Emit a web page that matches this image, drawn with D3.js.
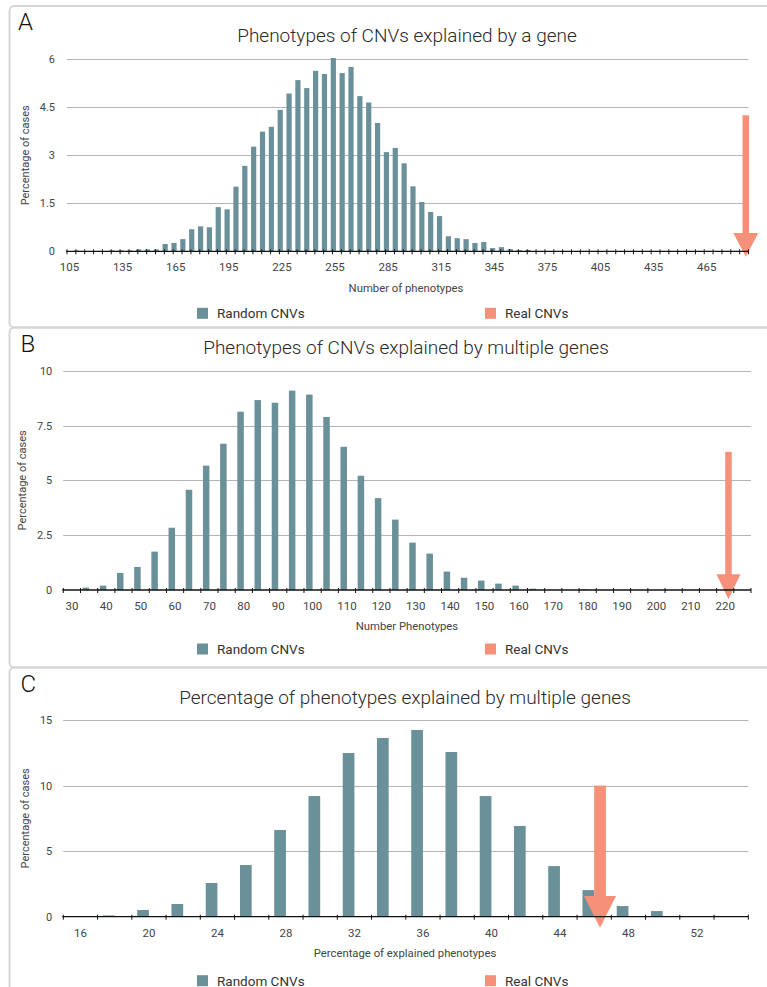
<!DOCTYPE html>
<html>
<head>
<meta charset="utf-8">
<script src="https://cdn.jsdelivr.net/npm/d3@7"></script>
<style>
  html, body { margin: 0; padding: 0; background: #ffffff; }
  svg { display: block; }
  text { font-family: "Helvetica Neue", Roboto, "Liberation Sans", Arial, sans-serif; }
</style>
</head>
<body>
<svg id="chart" width="767" height="987"></svg>
<script>
// ---- Panel A: number of phenotypes explained by a single gene ----
const catsA = [105,110,115,120,125,130,135,140,145,150,155,160,165,170,175,180,185,190,195,200,
  205,210,215,220,225,230,235,240,245,250,255,260,265,270,275,280,285,290,295,300,
  305,310,315,320,325,330,335,340,345,350,355,360,365,370,375,380,385,390,395,400,
  405,410,415,420,425,430,435,440,445,450,455,460,465,470,475,480,485,490];
const randomA = [0,0.03,0,0,0,0.03,0.03,0.03,0.06,0.06,0.06,0.23,0.26,0.38,0.69,0.78,0.75,1.38,1.31,2.02,
  2.67,3.27,3.74,3.89,4.42,4.93,5.35,5.10,5.64,5.54,6.04,5.57,5.76,4.85,4.65,4.01,3.10,3.23,2.75,2.03,
  1.54,1.23,1.10,0.47,0.41,0.38,0.26,0.29,0.10,0.13,0.07,0.04,0.04,0,0,0,0,0,0,0,
  0,0,0,0,0,0,0,0,0,0,0,0,0,0,0,0,0,0];
const realA = [{cat: 490, value: 4.25}];
const xLabelsA = [105,135,165,195,225,255,285,315,345,375,405,435,465];
const yTicksA = [0,1.5,3,4.5,6];

// ---- Panel B: number of phenotypes explained by multiple genes ----
const catsB = [30,35,40,45,50,55,60,65,70,75,80,85,90,95,100,105,110,115,120,125,
  130,135,140,145,150,155,160,165,170,175,180,185,190,195,200,205,210,215,220,225];
const randomB = [0,0.11,0.2,0.78,1.05,1.75,2.84,4.57,5.67,6.67,8.13,8.66,8.54,9.09,8.91,7.89,6.53,5.21,4.19,3.21,
  2.16,1.66,0.84,0.56,0.43,0.29,0.2,0.06,0,0,0.04,0,0,0,0,0,0,0,0,0];
const realB = [{cat: 220, value: 6.3}];
const xLabelsB = [30,40,50,60,70,80,90,100,110,120,130,140,150,160,170,180,190,200,210,220];
const yTicksB = [0,2.5,5,7.5,10];

// ---- Panel C: percentage of phenotypes explained by multiple genes ----
const catsC = [16,18,20,22,24,26,28,30,32,34,36,38,40,42,44,46,48,50,52,54];
const randomC = [0,0.1,0.51,0.97,2.57,3.94,6.61,9.2,12.48,13.63,14.24,12.56,9.2,6.92,3.86,2.03,0.81,0.43,0.05,0.05];
const realC = [{cat: 46, value: 10}];
const xLabelsC = [16,20,24,28,32,36,40,44,48,52];
const yTicksC = [0,5,10,15];

const legendNames = ["Random CNVs", "Real CNVs"];
const COLOR_RANDOM = "#6a9199";
const COLOR_REAL = "#f59079";

const svg = d3.select("#chart");

function drawPanel(p) {
  const g = svg.append("g");

  // panel frame
  g.append("rect")
    .attr("x", 9.5).attr("y", p.frameTop)
    .attr("width", 820).attr("height", p.frameHeight)
    .attr("rx", 5)
    .attr("fill", "none").attr("stroke", "#d5d5d5").attr("stroke-width", 2);

  // panel letter and title
  g.append("text").attr("x", p.letterX).attr("y", p.letterY)
    .attr("font-size", 24).attr("font-weight", 300).attr("fill", "#111").text(p.letter);
  g.append("text").attr("x", p.titleX).attr("y", p.titleY)
    .attr("text-anchor", "middle").attr("font-size", p.titleSize).attr("font-weight", 300)
    .attr("fill", "#2a2a2a").text(p.title);

  // scales
  const y = d3.scaleLinear().domain([0, p.yMax]).range([p.y0, p.y1]);
  let xCenter, xStart, step;
  if (p.mode === "point") {
    const x = d3.scalePoint().domain(p.cats).range([p.x0, p.x1]);
    step = x.step();
    xCenter = c => x(c);
    xStart = c => x(c) - step / 2;
  } else {
    const x = d3.scaleBand().domain(p.cats).range([p.x0, p.x1]).paddingInner(0).paddingOuter(0);
    step = x.bandwidth();
    xStart = c => x(c);
    xCenter = c => x(c) + step / 2;
  }

  // horizontal gridlines
  g.append("g").selectAll("line").data(p.yTicks.filter(v => v > 0)).join("line")
    .attr("x1", p.x0).attr("x2", p.gridEnd)
    .attr("y1", d => Math.round(y(d)) + 0.5).attr("y2", d => Math.round(y(d)) + 0.5)
    .attr("stroke", "#b4b4b4").attr("stroke-width", 1.2);

  // y tick labels
  g.append("g").selectAll("text").data(p.yTicks).join("text")
    .attr("x", p.x0 - p.yLabelGap).attr("y", d => y(d) + 4)
    .attr("text-anchor", "end").attr("font-size", 11).attr("fill", "#444")
    .text(d => d);

  // y axis title
  g.append("text")
    .attr("transform", `translate(${p.yTitleX},${(p.y0 + p.y1) / 2}) rotate(-90)`)
    .attr("text-anchor", "middle").attr("font-size", 11).attr("fill", "#444")
    .text("Percentage of cases");

  // random CNV bars
  const wR = p.barW;
  const randomX = c => p.mode === "point" ? xCenter(c) - wR / 2 + p.randomShift
                                          : xStart(c) + (step - 2 * wR) / 2;
  g.append("g").selectAll("rect").data(p.cats.map((c, i) => ({cat: c, value: p.random[i]})))
    .join("rect")
    .attr("x", d => randomX(d.cat))
    .attr("y", d => y(d.value))
    .attr("width", wR)
    .attr("height", d => p.y0 - y(d.value))
    .attr("fill", COLOR_RANDOM);

  // real CNV bar with arrowhead
  const wReal = p.realW;
  const realX = c => p.mode === "point" ? xCenter(c) - wReal / 2 + p.realShift
                                        : xStart(c) + (step - 2 * wR) / 2 + wR;
  const rg = g.append("g");
  rg.selectAll("rect").data(p.real).join("rect")
    .attr("x", d => realX(d.cat))
    .attr("y", d => y(d.value))
    .attr("width", wReal)
    .attr("height", d => p.y0 - y(d.value))
    .attr("fill", COLOR_REAL);
  rg.selectAll("path").data(p.real).join("path")
    .attr("d", d => {
      const cx = realX(d.cat) + wReal / 2;
      const tip = p.y0 + p.headOver;
      const top = tip - p.headLen;
      return `M${cx - p.headW / 2},${top} L${cx + p.headW / 2},${top} L${cx},${tip} Z`;
    })
    .attr("fill", COLOR_REAL);

  // x axis line and ticks
  g.append("line").attr("x1", p.x0 - 1).attr("x2", p.axisEnd)
    .attr("y1", p.y0).attr("y2", p.y0).attr("stroke", "#111").attr("stroke-width", 1.3);
  const tickPos = p.mode === "point" ? p.cats.map(c => xCenter(c))
                                     : p.cats.map(c => xStart(c)).concat([p.x1]);
  g.append("g").selectAll("line").data(tickPos).join("line")
    .attr("x1", d => d).attr("x2", d => d)
    .attr("y1", p.y0 - 2).attr("y2", p.y0 + 3)
    .attr("stroke", "#111").attr("stroke-width", 1);

  // x tick labels
  g.append("g").selectAll("text").data(p.xLabels).join("text")
    .attr("x", d => xCenter(d) + p.labelShift).attr("y", p.xLabelY)
    .attr("text-anchor", "middle").attr("font-size", 11.5).attr("fill", "#444")
    .text(d => d);

  // x axis title
  g.append("text").attr("x", p.xTitleX).attr("y", p.xTitleY)
    .attr("text-anchor", "middle").attr("font-size", 11.3).attr("fill", "#444")
    .text(p.xTitle);

  // legend
  const lg = g.append("g");
  [[legendNames[0], COLOR_RANDOM, 197], [legendNames[1], COLOR_REAL, 485]].forEach(([name, col, lx]) => {
    lg.append("rect").attr("x", lx).attr("y", p.legendY - 5.5).attr("width", 11).attr("height", 11).attr("fill", col);
    lg.append("text").attr("x", lx + 20).attr("y", p.legendY + 4.8)
      .attr("font-size", 13.5).attr("fill", "#333").text(name);
  });
}

drawPanel({
  letter: "A", title: "Phenotypes of CNVs explained by a gene", xTitle: "Number of phenotypes",
  cats: catsA, random: randomA, real: realA, xLabels: xLabelsA, yTicks: yTicksA, yMax: 6,
  mode: "point", x0: 67, x1: 748.5, y0: 251.3, y1: 59.3, gridEnd: 748.5, axisEnd: 748.5,
  barW: 5.2, randomShift: 0.8, realW: 6.5, realShift: -2.7, labelShift: 2.5,
  headW: 25, headLen: 23.7, headOver: 5.4,
  frameTop: 6, frameHeight: 321.5, letterX: 18, letterY: 29.5, titleX: 407, titleY: 41.5, titleSize: 19,
  yLabelGap: 12, yTitleX: 28.5, xLabelY: 270.5, xTitleX: 406, xTitleY: 291.5, legendY: 313.3
});

drawPanel({
  letter: "B", title: "Phenotypes of CNVs explained by multiple genes", xTitle: "Number Phenotypes",
  cats: catsB, random: randomB, real: realB, xLabels: xLabelsB, yTicks: yTicksB, yMax: 10,
  mode: "band", x0: 63.3, x1: 751, y0: 590, y1: 370.7, gridEnd: 751, axisEnd: 751,
  barW: 6.5, realW: 6.5, labelShift: 0,
  headW: 24, headLen: 25, headOver: 9.3,
  frameTop: 327.5, frameHeight: 340, letterX: 20.5, letterY: 351.5, titleX: 406, titleY: 353.5, titleSize: 19,
  yLabelGap: 11, yTitleX: 25.5, xLabelY: 610, xTitleX: 407, xTitleY: 630, legendY: 649
});

drawPanel({
  letter: "C", title: "Percentage of phenotypes explained by multiple genes", xTitle: "Percentage of explained phenotypes",
  cats: catsC, random: randomC, real: realC, xLabels: xLabelsC, yTicks: yTicksC, yMax: 15,
  mode: "band", x0: 63.3, x1: 748.3, y0: 916.7, y1: 720, gridEnd: 748.3, axisEnd: 748.3,
  barW: 11.7, realW: 11.7, labelShift: 0,
  headW: 32, headLen: 31.7, headOver: 11,
  frameTop: 667.5, frameHeight: 340, letterX: 20.5, letterY: 691.5, titleX: 405, titleY: 703.5, titleSize: 19,
  yLabelGap: 11, yTitleX: 28.5, xLabelY: 936.5, xTitleX: 405, xTitleY: 956.5, legendY: 980.7
});
</script>
</body>
</html>
